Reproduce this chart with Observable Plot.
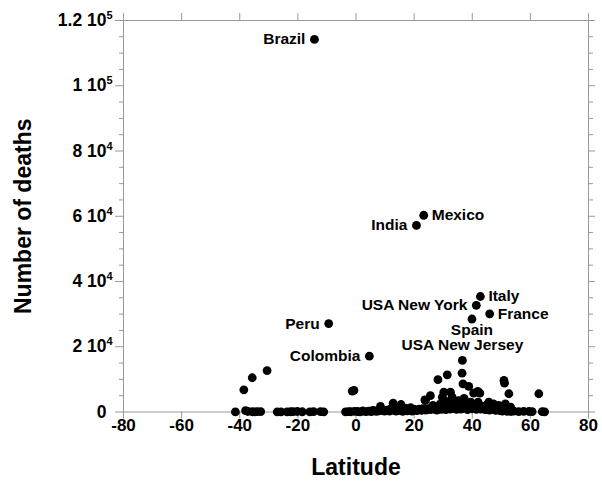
<!DOCTYPE html>
<html><head><meta charset="utf-8">
<script src="https://cdn.jsdelivr.net/npm/d3@7"></script>
<script src="https://cdn.jsdelivr.net/npm/@observablehq/plot@0.6"></script>
<style>html,body{margin:0;padding:0;background:#fff}#chart{width:602px;height:481px}</style>
</head><body><div id="chart"></div>
<script>
// Labelled regions
const labelNames = ["Brazil","Mexico","India","Italy","USA New York","France","Spain","USA New Jersey","Peru","Colombia"];
const labelLat = [-14.3, 23.3, 20.8, 42.8, 41.4, 46.0, 39.9, 36.6, -9.4, 4.6];
const labelDeaths = [114200, 60300, 57200, 35400, 32700, 30100, 28500, 15800, 27100, 17100];
const labelSide = ["left","right","left","right","left","right","below","above","left","left"];

// Unlabelled regions
const otherLat = [
  -41.5,-38.0,-37.2,-35.7,-34.8,-34.0,-32.8,-27.1,-25.8,-23.7,-22.5,-21.6,-20.2,-18.5,-15.9,-14.6,-12.2,-11.1,
  -38.6,-35.7,-30.6,-1.3,-0.7,
  -3.6,-2.6,-1.8,-0.5,0.5,1.4,2.3,3.4,4.4,5.3,6.1,7.0,7.9,9.0,9.8,10.6,11.5,12.3,13.1,13.8,14.6,15.3,16.1,16.9,17.6,18.4,19.3,20.1,20.9,21.7,22.5,23.2,
  24.0,24.8,25.5,26.3,27.1,27.8,28.6,29.4,30.1,30.9,31.6,32.4,33.1,33.9,34.6,35.4,36.1,36.9,37.6,38.4,39.1,39.9,40.6,41.4,42.1,42.9,43.6,44.4,45.1,45.9,46.6,47.4,48.1,48.9,49.6,
  50.3,51.0,52.0,53.3,54.3,56.0,57.7,59.5,60.6,64.1,64.9,
  8.4,12.8,15.5,18.8,23.7,25.6,28.2,31.4,36.5,36.8,38.8,41.9,29.7,32.5,33.1,30.2,40.5,42.6,36.0,38.3,45.7,49.1,50.9,51.1,52.6,51.4,53.2,62.9,23.9,
  26.5,27.5,29.0,30.5,31.2,32.0,33.8,34.5,35.3,37.2,37.8,39.5,40.2,41.0,42.0,43.2,44.0,45.0,46.5,47.3,48.5,23.0,22.0,19.8,14.0,10.5,5.8,17.2,11.8
];
const otherDeaths = [
  30,400,150,80,60,120,90,50,40,60,80,120,150,70,60,90,100,40,
  6800,10500,12700,6400,6600,
  50,120,80,200,150,60,300,100,250,90,400,200,350,600,300,450,250,700,500,300,800,400,200,500,350,600,300,700,450,900,500,
  800,600,1000,700,900,1200,600,1500,800,1300,700,1600,900,1400,1100,800,1500,900,1800,1200,700,1400,1000,1600,800,1300,900,1500,700,1100,600,1200,800,500,1000,400,
  300,600,200,150,250,100,200,150,100,100,50,
  1700,2700,2300,1300,3700,5000,9900,11400,11900,8650,7830,6290,4540,6080,4540,6080,5770,5770,3000,1470,3000,2000,9670,8840,5590,2500,1470,5590,3530,
  2000,1200,2500,3500,2000,3000,2200,1500,3500,4200,2500,3000,2000,1200,3000,1800,1000,2200,1500,2500,1200,1000,800,900,1000,600,500,1100,900
];

const xTicks = [-80,-60,-40,-20,0,20,40,60,80];
const yTicks = [0,20000,40000,60000,80000,100000,120000];
const yMinor = [5000,10000,15000,25000,30000,35000,45000,50000,55000,65000,70000,75000,85000,90000,95000,105000,110000,115000];
const yMantissa = ["0","2 10","4 10","6 10","8 10","1 10","1.2 10"];
const yExponent = ["","4","4","4","4","5","5"];

const labeled = labelNames.map((n,i)=>({name:n, lat:labelLat[i], deaths:labelDeaths[i], side:labelSide[i]}));
const others = otherLat.map((v,i)=>({lat:v, deaths:otherDeaths[i]}));
const points = others.concat(labeled);
const yTickRows = yTicks.map((v,i)=>({v, m:yMantissa[i], e:yExponent[i]}));

const font = "'Liberation Sans', Arial, Helvetica, sans-serif";
const gray = "#999999";
const lblStyle = {fontSize:15.5, fontWeight:"bold", fill:"black", x:"lat", y:"deaths", text:"name"};

const chart = Plot.plot({
  width: 602, height: 481,
  marginLeft: 123, marginRight: 14, marginTop: 20, marginBottom: 69.5,
  style: {fontFamily: font, background: "white", overflow: "visible"},
  x: {domain: [-80, 80]},
  y: {domain: [0, 120000]},
  marks: [
    Plot.frame({stroke: gray}),
    Plot.axisX({ticks: xTicks, anchor:"bottom", tickSize: 7, stroke: gray, fill: "none", label: null}),
    Plot.axisX({ticks: xTicks, anchor:"top", tickSize: 8, stroke: gray, fill: "none", label: null}),
    Plot.axisY({ticks: yTicks, anchor:"left", tickSize: 8, stroke: gray, fill: "none", label: null}),
    Plot.axisY({ticks: yMinor, anchor:"left", tickSize: 4, stroke: gray, fill: "none", label: null}),
    Plot.axisY({ticks: yTicks, anchor:"right", tickSize: 6, stroke: gray, fill: "none", label: null}),
    Plot.axisY({ticks: yMinor, anchor:"right", tickSize: 4, stroke: gray, fill: "none", label: null}),
    Plot.text(xTicks, {x: d=>d, text: d=>String(d), frameAnchor:"bottom", textAnchor:"middle", lineAnchor:"top", dy: 7, fontSize: 17, fontWeight:"bold", fill:"black"}),
    Plot.text(yTickRows, {y:"v", text:"m", frameAnchor:"left", textAnchor:"end", dx:-17, fontSize:17.5, fontWeight:"bold", fill:"black"}),
    Plot.text(yTickRows, {y:"v", text:"e", frameAnchor:"left", textAnchor:"start", dx:-17, dy:-5, fontSize:11, fontWeight:"bold", fill:"black"}),
    Plot.text(["Latitude"], {text: d=>d, frameAnchor:"bottom", textAnchor:"middle", lineAnchor:"top", dy: 47, fontSize: 23, fontWeight:"bold", fill:"black"}),
    Plot.text(["Number of deaths"], {text: d=>d, frameAnchor:"left", textAnchor:"middle", lineAnchor:"middle", rotate:-90, dx:-100, fontSize: 23, fontWeight:"bold", fill:"black"}),
    Plot.dot(points, {x:"lat", y:"deaths", r:4.4, fill:"black", stroke:"none"}),
    Plot.text(labeled.filter(d=>d.side==="left"), {...lblStyle, textAnchor:"end", dx:-9}),
    Plot.text(labeled.filter(d=>d.side==="right"), {...lblStyle, textAnchor:"start", dx:8}),
    Plot.text(labeled.filter(d=>d.side==="below"), {...lblStyle, textAnchor:"middle", dy:11}),
    Plot.text(labeled.filter(d=>d.side==="above"), {...lblStyle, textAnchor:"middle", dy:-15})
  ]
});
document.getElementById("chart").appendChild(chart);
</script>
</body></html>
